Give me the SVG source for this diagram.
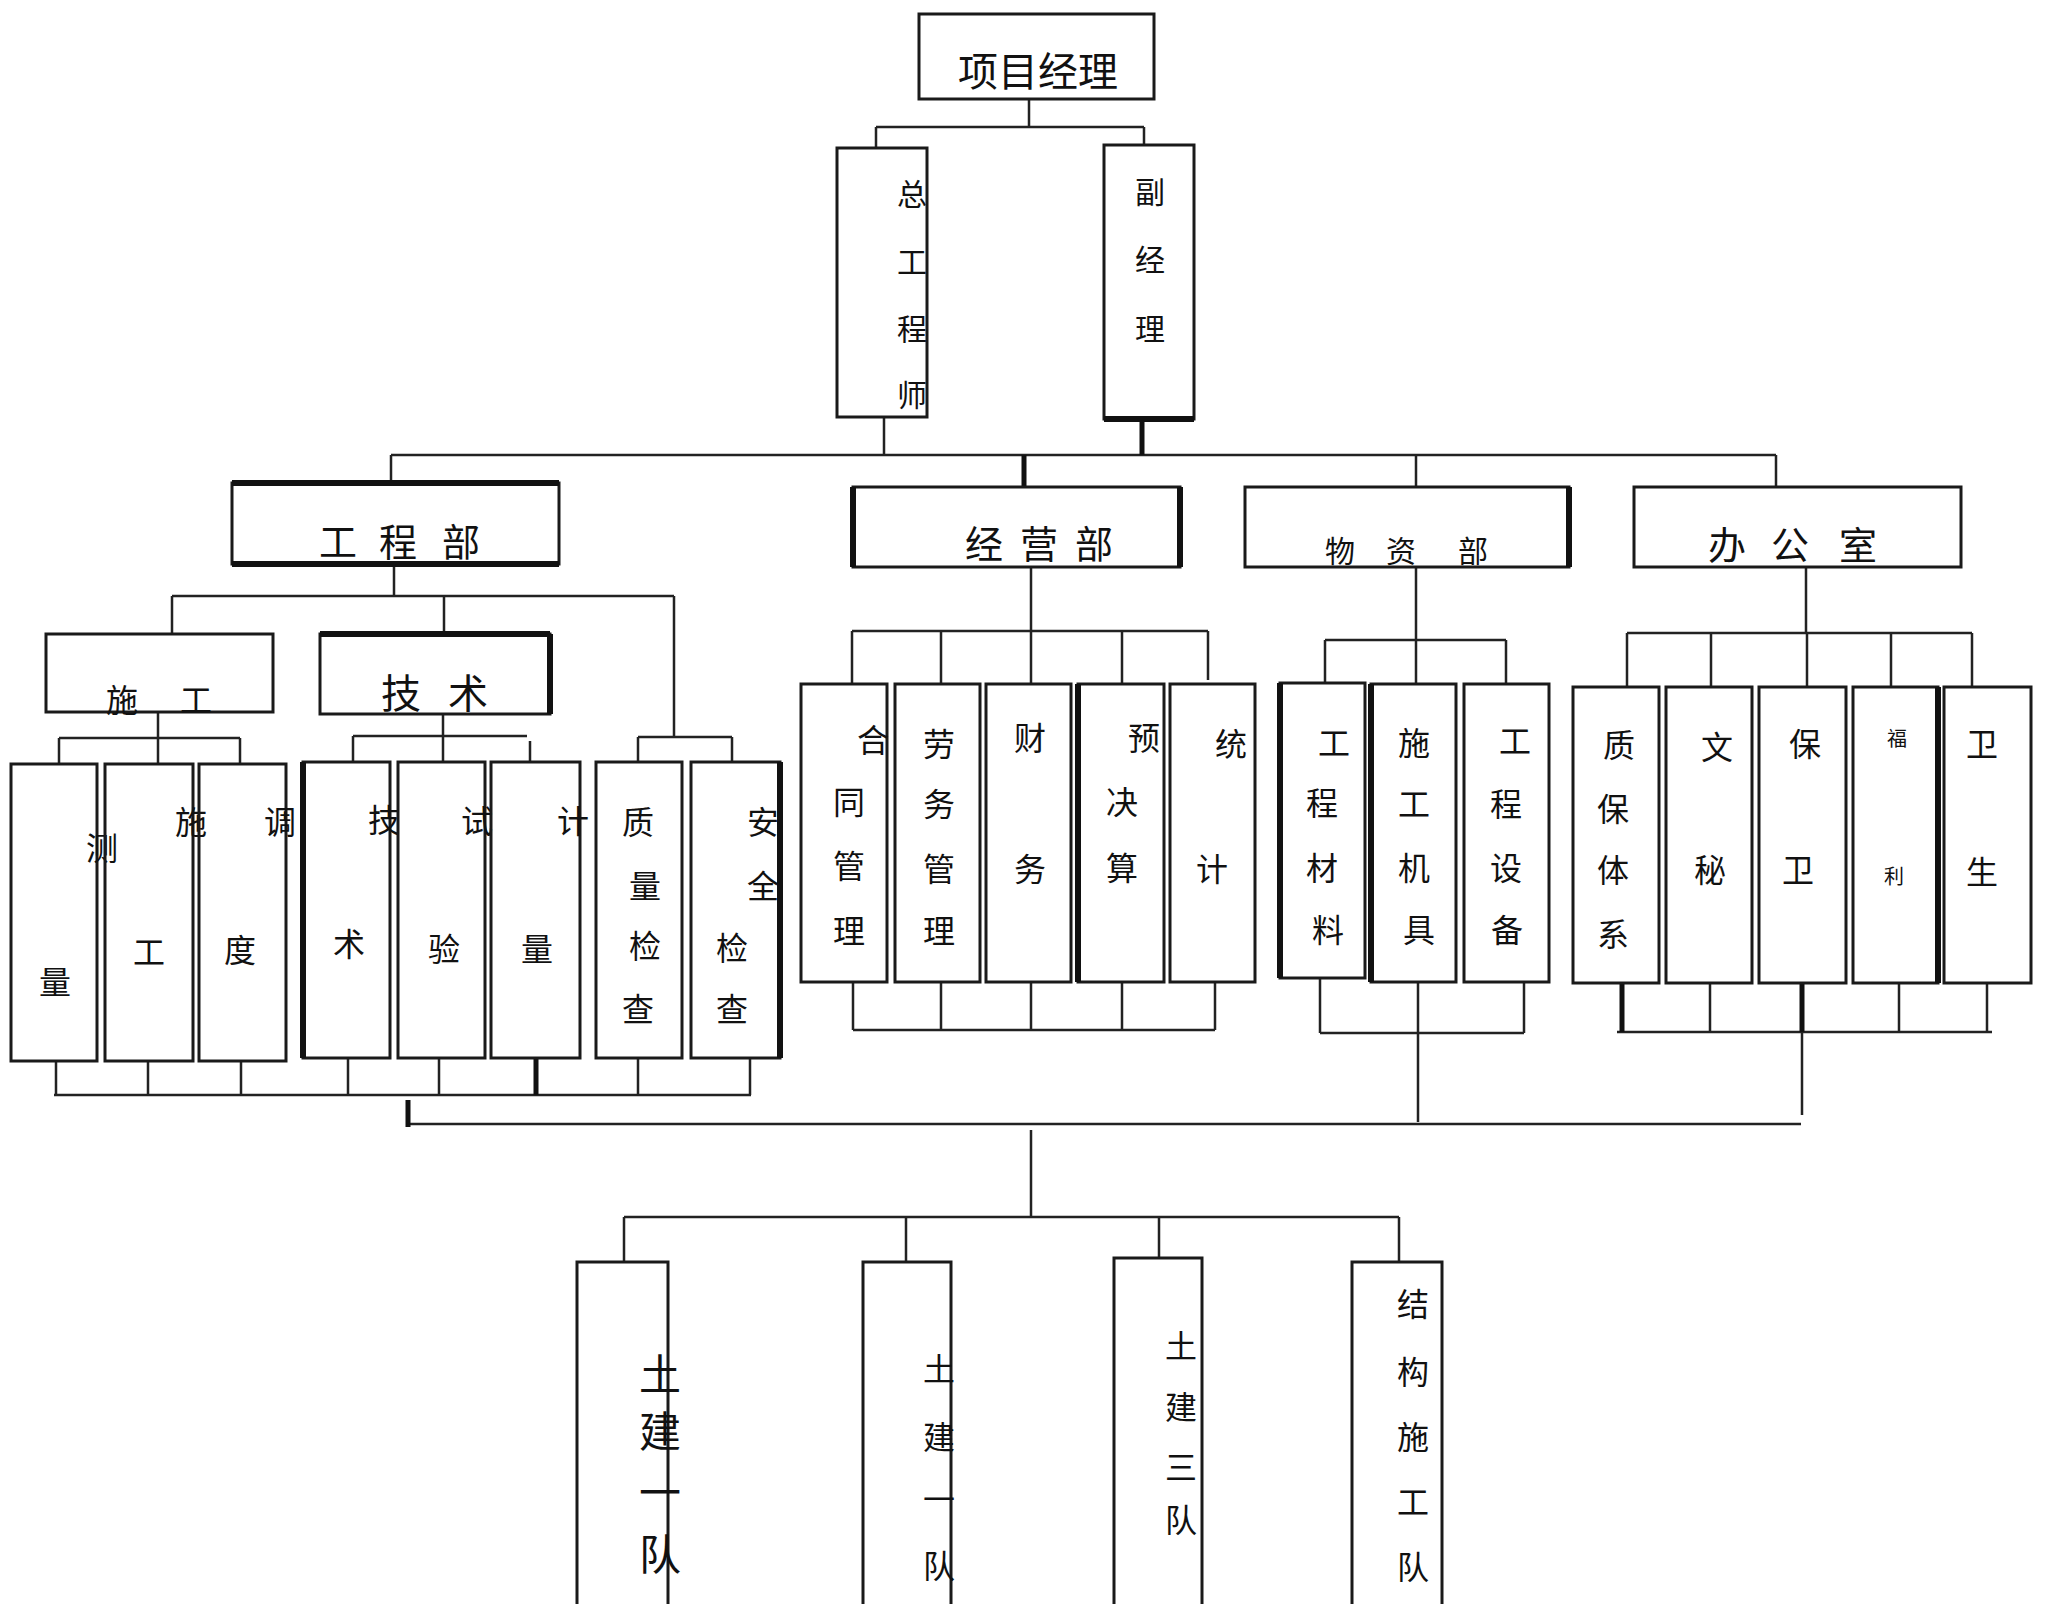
<svg xmlns="http://www.w3.org/2000/svg" width="2050" height="1604" viewBox="0 0 2050 1604">
<style>
.bx{fill:none;stroke:#1a1a1a;stroke-width:3}
.tk{fill:none;stroke:#111;stroke-width:6}
.ln{fill:none;stroke:#222;stroke-width:2.5}
.lt{fill:none;stroke:#111;stroke-width:5}
text{font-family:"Noto Sans CJK SC","Noto Sans CJK JP",sans-serif;fill:#111;text-anchor:middle;dominant-baseline:central;font-size:32px}
.f30{font-size:30px}.f38{font-size:38px}.f40{font-size:40px}.f46{font-size:42px}.f20{font-size:20px}
</style>
<rect width="2050" height="1604" fill="#fff"/>
<g id="connectors">
<path class="ln" d="M1029 99V127M876 127H1144M876 127V148M1144 127V145M884 417V455M391 455H1776M391 455V483M1416 455V487M1776 455V487"/>
<path class="lt" d="M1142 419V455M1024 455V487"/>
<path class="ln" d="M394 564V596M172 596H674M172 596V634M444 596V634M674 596V737M158 712V764M59 738H240M59 738V764M240 738V764M443 714V762M353 736H527M353 736V762M530 741V762M638 737H732M638 737V762M732 737V762"/>
<path class="ln" d="M56 1061V1095M148 1061V1095M241 1061V1095M348 1058V1095M439 1058V1095M638 1058V1095M750 1058V1095M54 1095H751M408 1124H1801"/>
<path class="lt" d="M536 1058V1095M408 1100V1127"/>
<path class="ln" d="M1031 567V631M852 631H1208M852 631V684M941 631V684M1031 631V684M1122 631V684M1208 631V680M853 982V1030M941 982V1030M1031 982V1030M1122 982V1030M1215 982V1030M853 1030H1215"/>
<path class="ln" d="M1416 567V640M1325 640H1506M1325 640V684M1416 640V684M1506 640V684M1320 978V1033M1418 982V1033M1524 982V1033M1320 1033H1524M1418 1033V1122"/>
<path class="ln" d="M1806 567V633M1627 633H1972M1627 633V687M1711 633V687M1807 633V687M1891 633V687M1972 633V687M1710 983V1032M1899 983V1032M1987 983V1032M1617 1032H1992M1802 1032V1115"/>
<path class="lt" d="M1622 983V1032M1802 983V1032"/>
<path class="ln" d="M1031 1130V1217M624 1217H1399M624 1217V1262M906 1217V1262M1159 1217V1258M1399 1217V1262"/>
</g>
<g id="n-pm"><rect class="bx" x="919" y="14" width="235" height="85"/><text class="f40" x="1038" y="69">项目经理</text></g>
<g id="n-ce"><rect class="bx" x="837" y="148" width="90" height="269"/><text class="f30" x="912" y="192">总</text><text class="f30" x="912" y="260">工</text><text class="f30" x="912" y="327">程</text><text class="f30" x="912" y="393">师</text></g>
<g id="n-vm"><rect class="bx" x="1104" y="145" width="90" height="274"/><path class="tk" d="M1104 419H1194"/><text class="f30" x="1150" y="190">副</text><text class="f30" x="1150" y="258">经</text><text class="f30" x="1150" y="327">理</text></g>
<g id="n-gcb"><rect class="bx" x="232" y="483" width="327" height="81"/><path class="tk" d="M232 483H559M232 564H559"/><text class="f38" x="338" y="539">工</text><text class="f38" x="398" y="539">程</text><text class="f38" x="461" y="539">部</text></g>
<g id="n-jyb"><rect class="bx" x="853" y="487" width="327" height="80"/><path class="tk" d="M853 487V567M1180 487V567"/><text class="f38" x="984" y="541">经</text><text class="f38" x="1039" y="541">营</text><text class="f38" x="1094" y="541">部</text></g>
<g id="n-wzb"><rect class="bx" x="1245" y="487" width="324" height="80"/><path class="tk" d="M1569 487V567"/><text class="f30" x="1340" y="549">物</text><text class="f30" x="1401" y="549">资</text><text class="f30" x="1473" y="549">部</text></g>
<g id="n-bgs"><rect class="bx" x="1634" y="487" width="327" height="80"/><text class="f38" x="1727" y="542">办</text><text class="f38" x="1790" y="542">公</text><text class="f38" x="1858" y="542">室</text></g>
<g id="n-sg"><rect class="bx" x="46" y="634" width="227" height="78"/><text x="122" y="698">施</text><text x="196" y="698">工</text></g>
<g id="n-js"><rect class="bx" x="320" y="634" width="230" height="80"/><path class="tk" d="M320 634H550M550 634V714"/><text class="f40" x="401" y="691">技</text><text class="f40" x="468" y="691">术</text></g>
<g id="n-cl"><rect class="bx" x="11" y="764" width="86" height="297"/><text x="102" y="846">测</text><text x="55" y="980">量</text></g>
<g id="n-sg2"><rect class="bx" x="105" y="764" width="88" height="297"/><text x="191" y="820">施</text><text x="149" y="950">工</text></g>
<g id="n-dd"><rect class="bx" x="199" y="764" width="87" height="297"/><text x="280" y="820">调</text><text x="240" y="948">度</text></g>
<g id="n-js2"><rect class="bx" x="303" y="762" width="87" height="296"/><path class="tk" d="M303 762V1058"/><text x="384" y="818">技</text><text x="349" y="942">术</text></g>
<g id="n-sy"><rect class="bx" x="398" y="762" width="87" height="296"/><text x="477" y="819">试</text><text x="444" y="947">验</text></g>
<g id="n-jl"><rect class="bx" x="491" y="762" width="89" height="296"/><text x="573" y="819">计</text><text x="537" y="947">量</text></g>
<g id="n-zljc"><rect class="bx" x="596" y="762" width="86" height="296"/><text x="638" y="820">质</text><text x="645" y="884">量</text><text x="645" y="944">检</text><text x="638" y="1007">查</text></g>
<g id="n-aqjc"><rect class="bx" x="691" y="762" width="89" height="296"/><path class="tk" d="M780 762V1058"/><text x="763" y="820">安</text><text x="763" y="884">全</text><text x="732" y="946">检</text><text x="732" y="1007">查</text></g>
<g id="n-htgl"><rect class="bx" x="801" y="684" width="86" height="298"/><text x="873" y="738">合</text><text x="849" y="800">同</text><text x="849" y="864">管</text><text x="849" y="929">理</text></g>
<g id="n-lwgl"><rect class="bx" x="895" y="684" width="85" height="298"/><text x="939" y="742">劳</text><text x="939" y="802">务</text><text x="939" y="867">管</text><text x="939" y="929">理</text></g>
<g id="n-cw"><rect class="bx" x="986" y="684" width="85" height="298"/><text x="1030" y="736">财</text><text x="1030" y="867">务</text></g>
<g id="n-yjs"><rect class="bx" x="1078" y="684" width="86" height="298"/><path class="tk" d="M1078 684V982"/><text x="1144" y="736">预</text><text x="1122" y="800">决</text><text x="1122" y="866">算</text></g>
<g id="n-tj"><rect class="bx" x="1170" y="684" width="85" height="298"/><text x="1231" y="742">统</text><text x="1212" y="867">计</text></g>
<g id="n-gccl"><rect class="bx" x="1280" y="683" width="85" height="295"/><path class="tk" d="M1280 683V978"/><text x="1334" y="741">工</text><text x="1322" y="801">程</text><text x="1322" y="866">材</text><text x="1328" y="928">料</text></g>
<g id="n-sgjj"><rect class="bx" x="1371" y="684" width="85" height="298"/><path class="tk" d="M1371 684V982"/><text x="1414" y="741">施</text><text x="1414" y="802">工</text><text x="1414" y="866">机</text><text x="1419" y="928">具</text></g>
<g id="n-gcsb"><rect class="bx" x="1464" y="684" width="85" height="298"/><text x="1515" y="739">工</text><text x="1506" y="802">程</text><text x="1506" y="866">设</text><text x="1507" y="928">备</text></g>
<g id="n-zbtx"><rect class="bx" x="1573" y="687" width="86" height="296"/><text x="1619" y="743">质</text><text x="1613" y="807">保</text><text x="1613" y="868">体</text><text x="1613" y="932">系</text></g>
<g id="n-wm"><rect class="bx" x="1666" y="687" width="86" height="296"/><text x="1717" y="745">文</text><text x="1710" y="868">秘</text></g>
<g id="n-bw"><rect class="bx" x="1759" y="687" width="87" height="296"/><text x="1805" y="742">保</text><text x="1798" y="868">卫</text></g>
<g id="n-fl"><rect class="bx" x="1853" y="687" width="85" height="296"/><path class="tk" d="M1938 687V983"/><text class="f20" x="1897" y="737">福</text><text class="f20" x="1894" y="875">利</text></g>
<g id="n-ws"><rect class="bx" x="1944" y="687" width="87" height="296"/><text x="1982" y="742">卫</text><text x="1982" y="870">生</text></g>
<g id="n-t1"><rect class="bx" x="577" y="1262" width="91" height="360"/><text class="f46" x="660" y="1371">土</text><text class="f46" x="660" y="1428">建</text><text class="f46" x="660" y="1489">一</text><text class="f46" x="660" y="1551">队</text></g>
<g id="n-t2"><rect class="bx" x="863" y="1262" width="88" height="360"/><text x="939" y="1367">土</text><text x="939" y="1435">建</text><text x="939" y="1497">一</text><text x="939" y="1564">队</text></g>
<g id="n-t3"><rect class="bx" x="1114" y="1258" width="88" height="364"/><text x="1181" y="1344">土</text><text x="1181" y="1405">建</text><text x="1181" y="1465">三</text><text x="1181" y="1518">队</text></g>
<g id="n-t4"><rect class="bx" x="1352" y="1262" width="90" height="360"/><text x="1413" y="1302">结</text><text x="1413" y="1370">构</text><text x="1413" y="1435">施</text><text x="1413" y="1500">工</text><text x="1413" y="1565">队</text></g>
</svg>
